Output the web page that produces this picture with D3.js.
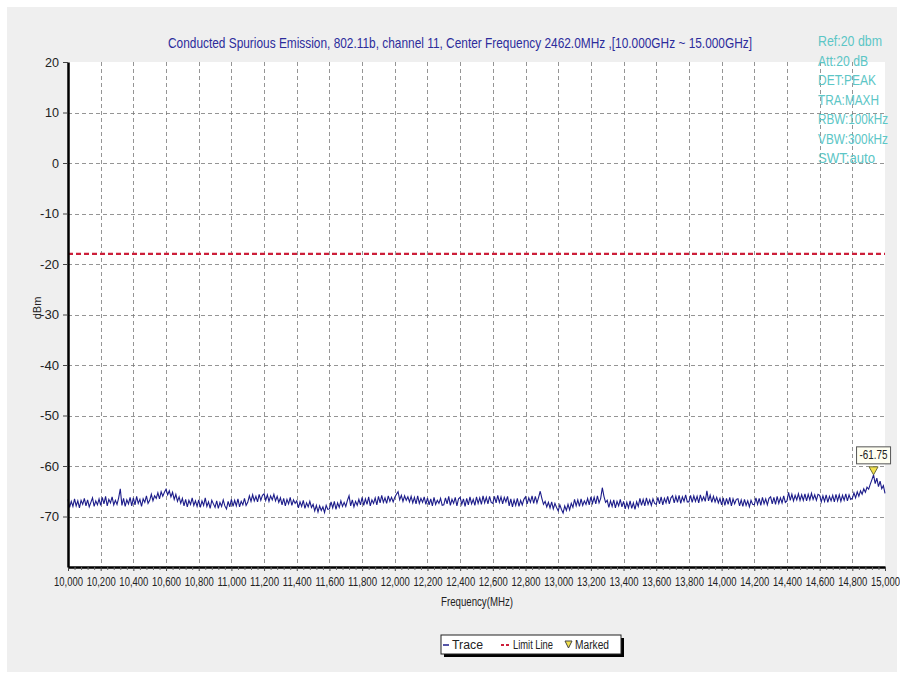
<!DOCTYPE html>
<html>
<head>
<meta charset="utf-8">
<script src="https://cdn.jsdelivr.net/npm/d3@7"></script>
<style>
  html, body { margin: 0; padding: 0; background: #ffffff; }
  svg { display: block; }
  text { font-family: "Liberation Sans Narrow", "Arial Narrow", "Liberation Sans", Arial, sans-serif; }
</style>
</head>
<body>
<svg id="chart" width="900" height="679"></svg>
<script>
// ---------------- data ----------------
const titleText = "Conducted Spurious Emission, 802.11b, channel 11, Center Frequency 2462.0MHz ,[10.000GHz ~ 15.000GHz]";
const infoLines = ["Ref:20 dbm", "Att:20 dB", "DET:PEAK", "TRA:MAXH", "RBW:100kHz", "VBW:300kHz", "SWT:auto"];
const xTicks = [10000,10200,10400,10600,10800,11000,11200,11400,11600,11800,12000,12200,12400,12600,12800,13000,13200,13400,13600,13800,14000,14200,14400,14600,14800,15000];
const yTicks = [20,10,0,-10,-20,-30,-40,-50,-60,-70];
const limitLine = -18;
const freqStart = 10000, freqStep = 10;
const traceValues = [
  -66.6,-68.2,-67.0,-68.0,-66.5,-67.9,-66.9,-68.3,-66.8,-67.6,
  -66.4,-67.9,-66.7,-68.1,-67.2,-66.3,-68.0,-66.9,-67.7,-66.5,
  -67.8,-66.2,-67.5,-66.0,-67.9,-66.6,-67.3,-66.1,-67.7,-66.8,
  -67.6,-66.3,-64.5,-67.8,-66.4,-68.0,-66.7,-67.5,-66.2,-67.9,
  -66.3,-67.7,-66.0,-67.4,-66.6,-68.0,-66.5,-67.2,-65.9,-67.4,
  -66.8,-65.6,-66.9,-65.9,-66.4,-65.3,-66.5,-65.1,-66.0,-65.2,
  -64.6,-65.7,-64.9,-66.1,-65.2,-66.6,-65.6,-67.0,-66.1,-67.4,
  -66.4,-67.9,-66.6,-68.1,-66.8,-67.6,-66.3,-67.8,-66.9,-68.0,
  -66.7,-68.2,-66.9,-67.8,-66.3,-68.0,-67.1,-68.4,-66.8,-67.5,
  -68.2,-66.9,-68.4,-67.2,-68.0,-66.7,-67.9,-68.5,-67.0,-68.1,
  -66.6,-68.0,-66.8,-67.9,-66.5,-68.1,-67.0,-67.7,-66.4,-67.8,
  -67.2,-65.9,-67.0,-65.7,-66.9,-66.0,-67.1,-65.6,-66.8,-65.8,
  -65.5,-66.8,-65.7,-67.0,-65.9,-66.7,-65.6,-66.9,-66.0,-67.2,
  -66.3,-67.7,-66.4,-67.9,-66.6,-67.5,-66.2,-67.8,-66.7,-67.4,
  -66.9,-68.3,-67.1,-68.0,-66.8,-68.4,-67.3,-68.1,-67.0,-68.2,
  -67.6,-68.9,-67.8,-69.1,-67.9,-68.8,-68.1,-69.2,-67.8,-68.6,
  -68.5,-67.1,-68.3,-67.0,-68.6,-67.3,-68.2,-66.9,-68.0,-67.2,
  -68.0,-66.8,-65.9,-67.9,-66.7,-68.1,-67.0,-67.8,-66.6,-67.7,
  -66.2,-67.8,-66.5,-67.6,-66.1,-67.9,-66.7,-67.4,-66.3,-67.7,
  -66.0,-67.3,-65.8,-67.2,-66.3,-67.4,-65.9,-67.0,-66.2,-67.1,
  -66.2,-65.6,-65.1,-66.7,-65.8,-67.0,-65.9,-66.8,-66.1,-67.1,
  -66.0,-67.3,-66.2,-67.5,-65.9,-67.4,-66.4,-67.2,-66.1,-67.6,
  -66.3,-67.7,-66.5,-67.9,-66.2,-67.6,-66.8,-67.4,-66.4,-67.8,
  -67.7,-66.3,-67.5,-66.0,-67.8,-66.6,-67.4,-66.2,-67.9,-66.5,
  -66.2,-67.6,-66.5,-68.0,-66.4,-67.7,-66.1,-67.5,-66.6,-67.8,
  -66.1,-67.4,-66.3,-67.6,-65.9,-67.3,-66.2,-67.5,-66.0,-67.2,
  -67.4,-66.0,-67.3,-65.8,-67.2,-66.1,-67.5,-66.2,-67.1,-66.0,
  -67.9,-66.5,-68.1,-66.7,-67.8,-66.4,-68.0,-66.8,-67.7,-66.6,
  -66.1,-67.5,-66.3,-67.2,-65.9,-67.4,-66.0,-67.3,-66.2,-65.0,
  -66.4,-67.6,-67.0,-68.1,-67.2,-68.3,-67.1,-68.5,-67.4,-68.2,
  -68.9,-67.7,-68.6,-69.3,-67.9,-68.8,-67.6,-68.7,-67.4,-68.2,
  -66.6,-67.9,-66.7,-68.0,-66.5,-67.8,-66.9,-67.6,-66.4,-67.7,
  -66.1,-67.4,-66.2,-67.5,-65.9,-67.3,-66.4,-64.3,-66.0,-67.2,
  -66.8,-68.2,-66.9,-68.0,-66.7,-68.3,-67.0,-67.9,-66.6,-68.1,
  -67.0,-68.5,-67.2,-68.3,-66.9,-68.4,-67.3,-68.6,-67.1,-68.0,
  -66.4,-67.8,-66.6,-67.9,-66.3,-67.6,-66.7,-67.8,-66.5,-67.4,
  -67.6,-66.2,-67.5,-66.1,-67.7,-66.4,-67.3,-66.0,-67.5,-66.3,
  -65.9,-67.3,-66.0,-67.2,-65.8,-67.4,-66.1,-67.0,-65.7,-67.1,
  -67.1,-65.8,-67.2,-65.9,-67.0,-66.0,-67.3,-65.7,-66.9,-66.1,
  -67.0,-64.9,-66.9,-65.8,-67.2,-66.0,-67.1,-66.2,-67.3,-66.4,
  -67.7,-66.3,-67.8,-66.4,-67.6,-66.2,-67.9,-66.5,-67.5,-66.6,
  -66.5,-67.9,-66.7,-68.0,-66.6,-67.8,-66.9,-68.1,-66.8,-67.6,
  -67.7,-66.3,-67.6,-66.4,-67.8,-66.2,-67.5,-66.5,-67.7,-66.4,
  -66.1,-67.5,-66.2,-67.6,-66.0,-67.4,-66.3,-67.3,-65.9,-67.2,
  -66.9,-65.2,-66.8,-65.6,-66.9,-65.8,-66.7,-65.5,-66.8,-65.7,
  -66.8,-65.5,-66.9,-65.6,-66.7,-65.4,-66.6,-65.7,-66.8,-65.6,
  -65.8,-67.1,-65.9,-67.0,-65.7,-67.2,-66.0,-66.9,-65.8,-67.1,
  -65.6,-66.9,-65.7,-67.0,-65.8,-66.8,-65.5,-66.9,-65.7,-66.6,
  -66.4,-65.3,-66.3,-65.1,-66.0,-64.9,-65.6,-64.5,-65.2,-64.2,
  -64.6,-63.6,-62.7,-61.75,-63.5,-62.4,-64.1,-63.0,-64.5,-63.9,
  -65.4
];
const markerFreq = 14930;
const markerValue = -61.75;
const legendItems = ["Trace", "Limit Line", "Marked"];

// ---------------- drawing ----------------
const svg = d3.select("#chart");
const W = 900, H = 679;
const trace = traceValues.map((v, i) => ({ f: freqStart + i * freqStep, v }));
const fmtNum = d => String(d);

svg.append("rect").attr("x", 0).attr("y", 0).attr("width", W).attr("height", H).attr("fill", "#ffffff");
svg.append("rect").attr("x", 7).attr("y", 7).attr("width", 890).attr("height", 665).attr("fill", "#efefef");

const x = d3.scaleLinear().domain([10000, 15000]).range([68, 885]);
const y = d3.scaleLinear().domain([-80, 20]).range([567, 62]);

svg.append("rect").attr("x", x(10000)).attr("y", y(20))
  .attr("width", x(15000) - x(10000)).attr("height", y(-80) - y(20)).attr("fill", "#ffffff");

// grid
const grid = svg.append("g").attr("stroke", "#7a7a7a").attr("stroke-width", 0.8).attr("stroke-dasharray", "4,3");
grid.selectAll("line.v").data(xTicks.filter(d => d > 10000 && d < 15000)).join("line")
  .attr("x1", d => Math.round(x(d)) + 0.5).attr("x2", d => Math.round(x(d)) + 0.5).attr("y1", y(20)).attr("y2", y(-80));
grid.selectAll("line.h").data(yTicks.filter(d => d < 20 && d > -80)).join("line")
  .attr("x1", x(10000)).attr("x2", x(15000)).attr("y1", d => Math.round(y(d)) + 0.5).attr("y2", d => Math.round(y(d)) + 0.5);

// limit line
svg.append("line").attr("x1", x(10000)).attr("x2", x(15000))
  .attr("y1", y(limitLine)).attr("y2", y(limitLine))
  .attr("stroke", "#cc1f3a").attr("stroke-width", 2.2).attr("stroke-dasharray", "5,3");

// trace
svg.append("path").datum(trace)
  .attr("d", d3.line().x(d => x(d.f)).y(d => y(d.v)))
  .attr("fill", "none").attr("stroke", "#1c1c8a").attr("stroke-width", 1.1);

// axes
const xAxis = svg.append("g").attr("transform", `translate(0,${y(-80)})`)
  .call(d3.axisBottom(x).tickValues(xTicks).tickSize(4).tickSizeOuter(0).tickFormat(d3.format(",")));
xAxis.select(".domain").attr("stroke", "#000").attr("stroke-width", 2.5);
xAxis.selectAll(".tick line").attr("stroke", "#444");
xAxis.selectAll(".tick text").attr("fill", "#222").attr("font-size", 12).attr("dy", "1.0em")
  .attr("textLength", 29).attr("lengthAdjust", "spacingAndGlyphs");

const minorTicks = d3.range(10000, 15001, 40).filter(d => d % 200 !== 0);
const xMinor = svg.append("g").attr("transform", `translate(0,${y(-80)})`)
  .call(d3.axisBottom(x).tickValues(minorTicks).tickSize(3).tickSizeOuter(0).tickFormat(""));
xMinor.select(".domain").remove();
xMinor.selectAll(".tick line").attr("stroke", "#666");

const yAxis = svg.append("g").attr("transform", `translate(${x(10000)},0)`)
  .call(d3.axisLeft(y).tickValues(yTicks).tickSize(5).tickSizeOuter(0).tickFormat(fmtNum));
yAxis.select(".domain").attr("stroke", "#000").attr("stroke-width", 2.5);
yAxis.selectAll(".tick line").attr("stroke", "#444");
yAxis.selectAll(".tick text").attr("fill", "#222").attr("font-size", 13).attr("dx", "-1px")
  .attr("textLength", d => { const s = fmtNum(d); return s.replace("-", "").length * 7 + (s.startsWith("-") ? 5 : 0); })
  .attr("lengthAdjust", "spacingAndGlyphs");

// axis titles
svg.append("text").attr("x", 477).attr("y", 606).attr("text-anchor", "middle")
  .attr("font-size", 12.5).attr("fill", "#222")
  .attr("textLength", 72).attr("lengthAdjust", "spacingAndGlyphs").text("Frequency(MHz)");
svg.append("text").attr("transform", "translate(41,308) rotate(-90)").attr("text-anchor", "middle")
  .attr("font-size", 11).attr("fill", "#222").text("dBm");

// title
svg.append("text").attr("x", 460).attr("y", 48).attr("text-anchor", "middle")
  .attr("font-size", 15).attr("fill", "#2c2c9c")
  .attr("textLength", 584).attr("lengthAdjust", "spacingAndGlyphs").text(titleText);

// info block
const infoWidths = [64, 50, 58, 61, 70, 70, 57];
svg.append("g").selectAll("text").data(infoLines).join("text")
  .attr("x", 818).attr("y", (d, i) => 46 + i * 19.5)
  .attr("font-size", 15.5).attr("fill", "#5cc6c6")
  .attr("textLength", (d, i) => infoWidths[i]).attr("lengthAdjust", "spacingAndGlyphs")
  .text(d => d);

// marker
const mx = x(markerFreq), my = y(markerValue);
svg.append("path")
  .attr("d", `M${mx - 4.5},${my - 8} L${mx + 4.5},${my - 8} L${mx},${my} Z`)
  .attr("fill", "#f2e14c").attr("stroke", "#6b6b3a").attr("stroke-width", 1);
const mb = svg.append("g");
mb.append("rect").attr("x", mx - 17).attr("y", my - 28).attr("width", 34).attr("height", 17)
  .attr("fill", "#fffff2").attr("stroke", "#555").attr("stroke-width", 1);
mb.append("text").attr("x", mx).attr("y", my - 15.5).attr("text-anchor", "middle")
  .attr("font-size", 12.5).attr("fill", "#222")
  .attr("textLength", 28).attr("lengthAdjust", "spacingAndGlyphs").text(markerValue.toFixed(2));

// legend
const lg = svg.append("g");
lg.append("rect").attr("x", 444).attr("y", 638).attr("width", 180).attr("height", 19).attr("fill", "#000");
lg.append("rect").attr("x", 441).attr("y", 635).attr("width", 180).attr("height", 19)
  .attr("fill", "#ffffff").attr("stroke", "#222").attr("stroke-width", 1);
lg.append("line").attr("x1", 443).attr("x2", 449).attr("y1", 645).attr("y2", 645).attr("stroke", "#1c1c8a").attr("stroke-width", 1.5);
lg.append("text").attr("x", 452).attr("y", 649).attr("font-size", 12.5).attr("fill", "#222")
  .attr("textLength", 31).attr("lengthAdjust", "spacingAndGlyphs").text(legendItems[0]);
lg.append("line").attr("x1", 501).attr("x2", 511).attr("y1", 645).attr("y2", 645)
  .attr("stroke", "#cc1f3a").attr("stroke-width", 2).attr("stroke-dasharray", "3,2");
lg.append("text").attr("x", 513).attr("y", 649).attr("font-size", 12.5).attr("fill", "#222")
  .attr("textLength", 40).attr("lengthAdjust", "spacingAndGlyphs").text(legendItems[1]);
lg.append("path").attr("d", "M565,641 L572,641 L568.5,648 Z").attr("fill", "#f2e14c").attr("stroke", "#444").attr("stroke-width", 1);
lg.append("text").attr("x", 575).attr("y", 649).attr("font-size", 12.5).attr("fill", "#222")
  .attr("textLength", 34).attr("lengthAdjust", "spacingAndGlyphs").text(legendItems[2]);
</script>
</body>
</html>
